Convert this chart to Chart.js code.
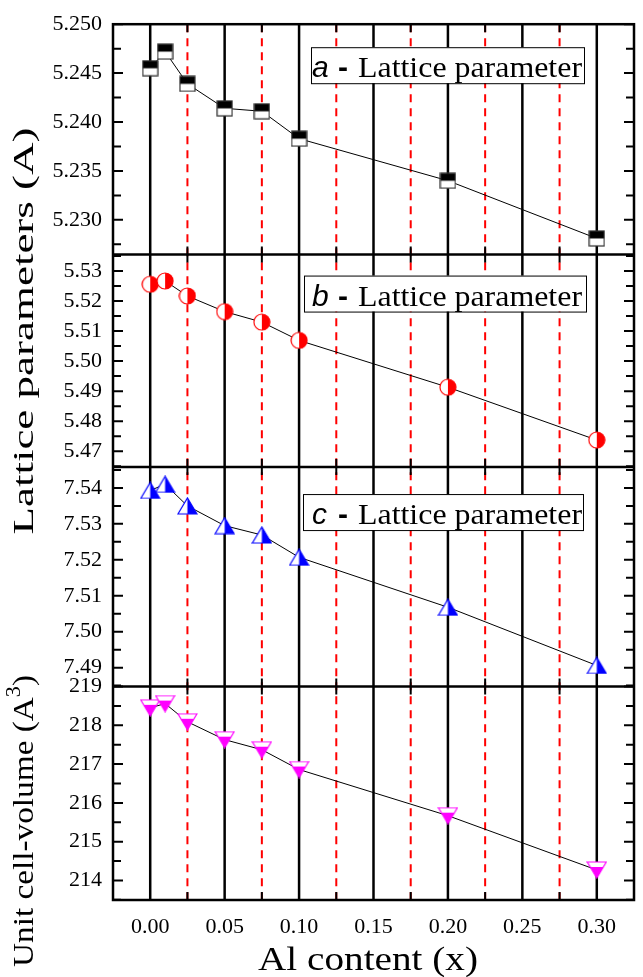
<!DOCTYPE html>
<html>
<head>
<meta charset="utf-8">
<script src="https://cdn.jsdelivr.net/npm/chart.js@4.4.1/dist/chart.umd.min.js"></script>
<style>
  html, body { margin: 0; padding: 0; background: #fff; }
  #wrap { width: 643px; height: 977px; }
</style>
</head>
<body>
<div id="wrap"><canvas id="c" width="643" height="977"></canvas></div>
<script>
// Al content (x)
var AL = [0.00, 0.01, 0.025, 0.05, 0.075, 0.10, 0.20, 0.30];
// lattice parameters (A) and cell volume (A^3)
var LAT_A = [5.2455, 5.2472, 5.2439, 5.2414, 5.2411, 5.2383, 5.2340, 5.2281];
var LAT_B = [5.5256, 5.5267, 5.5217, 5.5165, 5.5130, 5.5069, 5.4913, 5.4737];
var LAT_C = [7.5393, 7.5410, 7.5350, 7.5295, 7.5269, 7.5207, 7.5068, 7.4906];
var VOL = [218.45, 218.56, 218.09, 217.63, 217.37, 216.86, 215.67, 214.27];

var X_TICKS = [0.00, 0.05, 0.10, 0.15, 0.20, 0.25, 0.30];
var A_TICKS = [5.230, 5.235, 5.240, 5.245, 5.250];
var B_TICKS = [5.47, 5.48, 5.49, 5.50, 5.51, 5.52, 5.53];
var C_TICKS = [7.49, 7.50, 7.51, 7.52, 7.53, 7.54];
var V_TICKS = [214, 215, 216, 217, 218, 219];

var SERIF = "'Liberation Serif', 'Times New Roman', Times, serif";
var SANS = "'Liberation Sans', Arial, Helvetica, sans-serif";

function makeMarker(kind) {
    var c = document.createElement('canvas');
    var ctx;
    if (kind == 'square') {
        c.width = 17; c.height = 17;
        ctx = c.getContext('2d');
        ctx.fillStyle = '#fff';
        ctx.fillRect(1, 1, 15, 15);
        ctx.fillStyle = '#000';
        ctx.fillRect(1, 1, 15, 7.5);
        ctx.strokeStyle = '#333';
        ctx.lineWidth = 1.2;
        ctx.strokeRect(1, 1, 15, 15);
    } else if (kind == 'circle') {
        c.width = 18; c.height = 18;
        ctx = c.getContext('2d');
        ctx.beginPath();
        ctx.arc(9, 9, 8, 0, Math.PI * 2);
        ctx.fillStyle = '#fff';
        ctx.fill();
        ctx.save();
        ctx.clip();
        ctx.fillStyle = '#ff0000';
        ctx.fillRect(9, 0, 9, 18);
        ctx.restore();
        ctx.strokeStyle = '#ff0000';
        ctx.lineWidth = 1.2;
        ctx.stroke();
    } else if (kind == 'up') {
        c.width = 21; c.height = 18;
        ctx = c.getContext('2d');
        ctx.beginPath();
        ctx.moveTo(1, 17); ctx.lineTo(10.5, 1); ctx.lineTo(20, 17); ctx.closePath();
        ctx.fillStyle = '#fff';
        ctx.fill();
        ctx.save();
        ctx.clip();
        ctx.fillStyle = '#0000ff';
        ctx.fillRect(10.5, 0, 11, 18);
        ctx.restore();
        ctx.strokeStyle = '#0000ff';
        ctx.lineWidth = 1.2;
        ctx.stroke();
    } else {
        c.width = 21; c.height = 18;
        ctx = c.getContext('2d');
        ctx.beginPath();
        ctx.moveTo(1, 1); ctx.lineTo(20, 1); ctx.lineTo(10.5, 17); ctx.closePath();
        ctx.fillStyle = '#fff';
        ctx.fill();
        ctx.save();
        ctx.clip();
        ctx.fillStyle = '#ff00ff';
        ctx.fillRect(0, 6, 21, 12);
        ctx.restore();
        ctx.strokeStyle = '#ff00ff';
        ctx.lineWidth = 1.2;
        ctx.stroke();
    }
    return c;
}

function points(ys) {
    return AL.map(function(x, i) { return {x: x, y: ys[i]}; });
}

function makeSet(ys, axis, marker) {
    return {
        data: points(ys),
        yAxisID: axis,
        borderColor: '#000',
        borderWidth: 1,
        pointStyle: makeMarker(marker),
        pointRadius: 8,
        pointHoverRadius: 8,
        fill: false,
        tension: 0
    };
}

function yScale(ticks, min, max, weight, stackWeight, digits) {
    return {
        type: 'linear',
        position: 'left',
        stack: 'panels',
        stackWeight: stackWeight,
        weight: weight,
        min: min,
        max: max,
        afterBuildTicks: function(s) { s.ticks = ticks.map(function(v) { return {value: v}; }); },
        afterFit: function(s) { s.width = 113; },
        ticks: {
            autoSkip: false,
            padding: 11,
            color: '#000',
            font: {family: SERIF, size: 22},
            callback: function(v) { return v.toFixed(digits); }
        },
        grid: {display: false, drawTicks: false},
        border: {display: false}
    };
}

var PANEL_AXES = [
    {id: 'ya', ticks: A_TICKS},
    {id: 'yb', ticks: B_TICKS},
    {id: 'yc', ticks: C_TICKS},
    {id: 'yv', ticks: V_TICKS}
];

var PANEL_LABELS = [
    {axis: 'ya', letter: 'a', box: [311, 584], top: 23},
    {axis: 'yb', letter: 'b', box: [304, 586], top: 21},
    {axis: 'yc', letter: 'c', box: [303, 583], top: 27}
];

function drawTitle(ctx, parts, cx, cy, length, rotate) {
    ctx.save();
    ctx.translate(cx, cy);
    if (rotate) ctx.rotate(-Math.PI / 2);
    var total = 0;
    parts.forEach(function(p) {
        ctx.font = p.size + 'px ' + SERIF;
        p.w = ctx.measureText(p.text).width;
        total += p.w;
    });
    ctx.scale(length / total, 1);
    var x = -total / 2;
    ctx.fillStyle = '#000';
    ctx.textBaseline = 'alphabetic';
    ctx.textAlign = 'left';
    parts.forEach(function(p) {
        ctx.font = p.size + 'px ' + SERIF;
        ctx.fillText(p.text, x, -(p.rise || 0));
        x += p.w;
    });
    ctx.restore();
}

var framePlugin = {
    id: 'frame',
    beforeDatasetsDraw: function(chart) {
        var ctx = chart.ctx, area = chart.chartArea, xs = chart.scales.x;
        ctx.save();
        for (var k = 0; k <= 12; k++) {
            var px = xs.getPixelForValue(k * 0.025);
            ctx.beginPath();
            if (k % 2 == 0) {
                ctx.setLineDash([]);
                ctx.strokeStyle = '#000';
                ctx.lineWidth = 2.5;
            } else {
                ctx.setLineDash([8, 6]);
                ctx.strokeStyle = '#ff0000';
                ctx.lineWidth = 2;
            }
            ctx.moveTo(px, area.top);
            ctx.lineTo(px, area.bottom);
            ctx.stroke();
        }
        ctx.restore();
    },
    afterDraw: function(chart) {
        var ctx = chart.ctx, area = chart.chartArea, xs = chart.scales.x;
        ctx.save();
        ctx.strokeStyle = '#000';
        ctx.lineWidth = 2;
        // y ticks, inward on both sides
        PANEL_AXES.forEach(function(p) {
            var s = chart.scales[p.id];
            var step = (p.ticks[1] - p.ticks[0]) / 2;
            var k0 = Math.ceil((s.min - 1e-9) / step), k1 = Math.floor((s.max + 1e-9) / step);
            for (var k = k0; k <= k1; k++) {
                var py = s.getPixelForValue(k * step);
                var len = (k % 2 == 0) ? 10 : 8;
                ctx.beginPath();
                ctx.moveTo(area.left, py); ctx.lineTo(area.left + len, py);
                ctx.moveTo(area.right, py); ctx.lineTo(area.right - len, py);
                ctx.stroke();
            }
            // x ticks at panel edges
            for (var j = 1; j <= 12; j += 2) {
                var px = xs.getPixelForValue(j * 0.025);
                ctx.beginPath();
                ctx.moveTo(px, s.top); ctx.lineTo(px, s.top + 8);
                ctx.moveTo(px, s.bottom); ctx.lineTo(px, s.bottom - 8);
                ctx.stroke();
            }
        });
        // panel separators and frame
        ctx.lineWidth = 2.5;
        PANEL_AXES.slice(1).forEach(function(p) {
            var s = chart.scales[p.id];
            ctx.beginPath();
            ctx.moveTo(area.left, s.top); ctx.lineTo(area.right, s.top);
            ctx.stroke();
        });
        ctx.strokeRect(area.left, area.top, area.right - area.left, area.bottom - area.top);

        // panel labels
        PANEL_LABELS.forEach(function(l) {
            var s = chart.scales[l.axis];
            var top = s.top + l.top, h = 36;
            ctx.fillStyle = '#fff';
            ctx.fillRect(l.box[0], top, l.box[1] - l.box[0], h);
            ctx.lineWidth = 1;
            ctx.strokeStyle = '#000';
            ctx.strokeRect(l.box[0] + 0.5, top + 0.5, l.box[1] - l.box[0], h);
            ctx.fillStyle = '#000';
            ctx.textBaseline = 'alphabetic';
            ctx.textAlign = 'left';
            var base = top + 30;
            ctx.font = 'italic 30px ' + SANS;
            ctx.fillText(l.letter, 312, base);
            ctx.font = 'bold 30px ' + SANS;
            ctx.fillText('-', 338, base);
            ctx.font = '30px ' + SERIF;
            var txt = 'Lattice parameter';
            var w = ctx.measureText(txt).width;
            ctx.save();
            ctx.translate(358, base);
            ctx.scale(224 / w, 1);
            ctx.fillText(txt, 0, 0);
            ctx.restore();
        });

        // axis titles
        drawTitle(ctx, [{text: 'Lattice parameters (A)', size: 30}], 33, 331, 407, true);
        drawTitle(ctx, [{text: 'Unit cell-volume (A', size: 30}, {text: '3', size: 20, rise: 13}, {text: ')', size: 30}], 33, 821, 292, true);
        drawTitle(ctx, [{text: 'Al content (x)', size: 33}], 368, 970, 220, false);
        ctx.restore();
    }
};

var scales = {
    x: {
        type: 'linear',
        min: -0.025,
        max: 0.325,
        afterBuildTicks: function(s) { s.ticks = X_TICKS.map(function(v) { return {value: v}; }); },
        afterFit: function(s) { s.height = 77; },
        ticks: {
            autoSkip: false,
            maxRotation: 0,
            padding: 14,
            color: '#000',
            font: {family: SERIF, size: 22},
            callback: function(v) { return v.toFixed(2); }
        },
        grid: {display: false, drawTicks: false},
        border: {display: false}
    },
    ya: yScale(A_TICKS, 5.22645, 5.250, 4, 232, 3),
    yb: yScale(B_TICKS, 5.4647, 5.5355, 3, 214, 2),
    yc: yScale(C_TICKS, 7.48475, 7.5458, 2, 221, 2),
    yv: yScale(V_TICKS, 213.496, 219.0, 1, 215, 0)
};

new Chart(document.getElementById('c'), {
    type: 'line',
    data: {
        datasets: [
            makeSet(LAT_A, 'ya', 'square'),
            makeSet(LAT_B, 'yb', 'circle'),
            makeSet(LAT_C, 'yc', 'up'),
            makeSet(VOL, 'yv', 'down')
        ]
    },
    options: {
        responsive: false,
        animation: false,
        layout: {padding: {top: 18, right: 2, left: 0, bottom: 0}},
        plugins: {legend: {display: false}, tooltip: {enabled: false}},
        scales: scales
    },
    plugins: [framePlugin]
});
</script>
</body>
</html>
